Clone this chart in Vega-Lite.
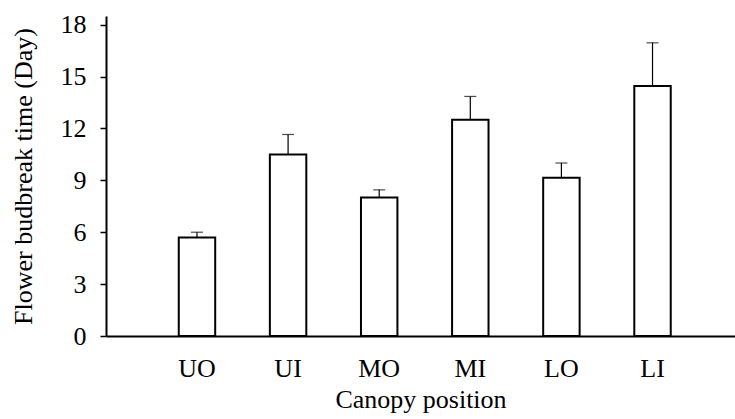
{
  "$schema": "https://vega.github.io/schema/vega-lite/v6.json",
  "width": 629,
  "height": 320,
  "autosize": {"type": "none"},
  "padding": {"left": 106, "top": 16, "right": 0, "bottom": 83},
  "background": "white",
  "data": {
    "values": [
      {"position": "UO", "days": 5.7, "upper": 6.0},
      {"position": "UI", "days": 10.5, "upper": 11.65},
      {"position": "MO", "days": 8.0, "upper": 8.45},
      {"position": "MI", "days": 12.5, "upper": 13.85},
      {"position": "LO", "days": 9.15, "upper": 10.0},
      {"position": "LI", "days": 14.45, "upper": 16.95}
    ]
  },
  "encoding": {
    "x": {
      "field": "position",
      "type": "nominal",
      "sort": null,
      "scale": {"domain": ["UO", "UI", "MO", "MI", "LO", "LI"], "paddingInner": 0.6, "paddingOuter": 0.752, "align": 0.531},
      "axis": {"title": "Canopy position", "labelAngle": 0, "ticks": false, "labelPadding": 19, "titlePadding": 5}
    }
  },
  "layer": [
    {
      "mark": {"type": "bar", "fill": "white", "stroke": "black", "strokeWidth": 2},
      "encoding": {
        "y": {
          "field": "days",
          "type": "quantitative",
          "scale": {"domain": [0, 18.5], "nice": false},
          "axis": {"title": "Flower budbreak time (Day)", "values": [0, 3, 6, 9, 12, 15, 18], "tickSize": 6, "labelPadding": 14, "titlePadding": 24}
        }
      }
    },
    {
      "mark": {"type": "rule", "color": "black", "strokeWidth": 1.2},
      "encoding": {
        "y": {"field": "days", "type": "quantitative"},
        "y2": {"field": "upper"}
      }
    },
    {
      "mark": {"type": "tick", "color": "black", "size": 12, "thickness": 1.2},
      "encoding": {
        "y": {"field": "upper", "type": "quantitative"}
      }
    }
  ],
  "config": {
    "view": {"stroke": null},
    "font": "Liberation Serif",
    "axis": {
      "grid": false,
      "domainColor": "black",
      "domainWidth": 2,
      "tickColor": "black",
      "tickWidth": 1.5,
      "labelFont": "Liberation Serif",
      "labelFontSize": 26,
      "labelColor": "black",
      "titleFont": "Liberation Serif",
      "titleFontSize": 26,
      "titleFontWeight": "normal",
      "titleColor": "black"
    }
  }
}
